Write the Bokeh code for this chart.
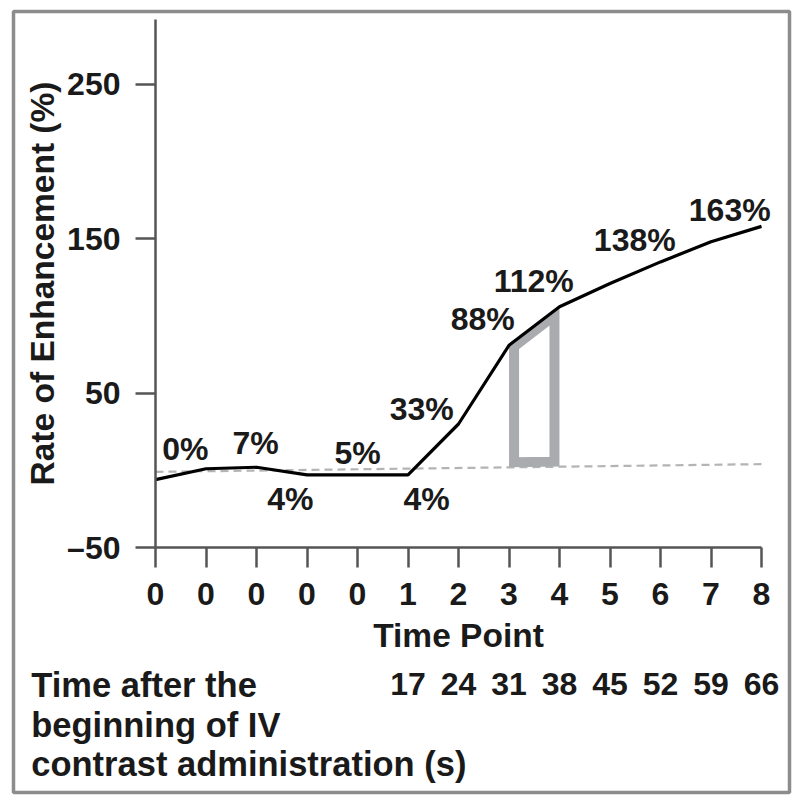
import numpy as np
from bokeh.plotting import figure
from bokeh.models import Range1d, FixedTicker, LinearAxis, ColumnDataSource, LabelSet, Label
from bokeh.core.properties import value
from bokeh.embed import file_html
from bokeh.resources import INLINE

# ---- data ----
time_index = list(range(13))
time_point_labels = ["0", "0", "0", "0", "0", "1", "2", "3", "4", "5", "6", "7", "8"]
enhancement = [-6, 1, 2, -3, -3, -3, 30, 81, 106, 121, 135, 148, 158]
baseline_x = [0, 12]
baseline_y = [-1, 4]
seconds_index = [5, 6, 7, 8, 9, 10, 11, 12]
seconds_labels = ["17", "24", "31", "38", "45", "52", "59", "66"]
y_ticks = [-50, 50, 150, 250]
y_tick_labels = ["\u201350", "50", "150", "250"]
y_axis_top = 292
pct_labels = ["0%", "7%", "4%", "5%", "4%", "33%", "88%", "112%", "138%", "163%"]
pct_x = [0.59, 1.98, 2.67, 4.0, 5.37, 5.27, 6.48, 7.49, 9.49, 11.37]
pct_y = [14.1, 18.0, -18.3, 11.5, -18.3, 40.0, 97.7, 122.9, 149.5, 168.3]
highlight_from, highlight_to = 7, 8
side_text = ["Time after the", "beginning of IV", "contrast administration (s)"]

FONT = "Liberation Sans"
INK = "#1a1a1a"
AXIS = "#555555"

# frame spans the whole card; the axes sit inside it at fixed locations
p = figure(width=800, height=800,
           x_range=Range1d(-2.812, 12.554), y_range=Range1d(-208.7, 297.2),
           x_axis_location=None, y_axis_location=None,
           output_backend="svg", toolbar_location=None,
           min_border_left=13, min_border_right=11, min_border_top=11, min_border_bottom=8)
p.xgrid.visible = False
p.ygrid.visible = False
p.outline_line_color = "#8c8c8c"
p.outline_line_width = 3.5
p.background_fill_color = "white"
p.border_fill_color = "white"

# baseline (dashed)
p.line(baseline_x, baseline_y, line_color="#b4b4b4", line_width=2.2, line_dash="8 5")

# highlighted trapezoid between time points 7 and 8 (stroke inset by half its width)
ix, iy = 0.1, 3.3
hx = [highlight_from + ix, highlight_to - ix, highlight_to - ix, highlight_from + ix]
top = np.interp([hx[0], hx[1]], time_index, enhancement)
bot = np.interp([hx[1], hx[0]], baseline_x, baseline_y)
hy = [top[0] - iy, top[1] - iy, bot[0] + iy, bot[1] + iy]
p.patch(hx, hy, fill_color=None, line_color="#a9abae", line_width=10, line_join="miter")

# enhancement curve
p.line(time_index, enhancement, line_color="black", line_width=3.2, line_join="round")

# percent annotations
src = ColumnDataSource(dict(x=pct_x, y=pct_y, text=pct_labels))
p.add_layout(LabelSet(x="x", y="y", text="text", source=src, text_align="center",
                      text_baseline="middle", text_font=value(FONT), text_font_size=value("32px"),
                      text_font_style="bold", text_color=INK))

def style_axis(ax):
    ax.axis_line_color = AXIS
    ax.axis_line_width = 2.5
    ax.major_tick_line_color = AXIS
    ax.major_tick_line_width = 2.5
    ax.major_tick_out = 20
    ax.major_tick_in = 0
    ax.minor_tick_line_color = None
    ax.major_label_text_font = FONT
    ax.major_label_text_font_size = "32px"
    ax.major_label_text_font_style = "bold"
    ax.major_label_text_color = INK
    ax.axis_label_text_font = FONT
    ax.axis_label_text_font_size = "33.5px"
    ax.axis_label_text_font_style = "bold"
    ax.axis_label_text_color = INK

y_bottom = min(y_ticks)

xa = LinearAxis(fixed_location=y_bottom, bounds=(time_index[0], time_index[-1]),
                ticker=FixedTicker(ticks=time_index),
                major_label_overrides={i: lab for i, lab in zip(time_index, time_point_labels)},
                axis_label="Time Point")
style_axis(xa)
xa.major_label_standoff = 15
xa.axis_label_standoff = 9
p.add_layout(xa, "below")

ya = LinearAxis(fixed_location=time_index[0], bounds=(y_bottom, y_axis_top),
                ticker=FixedTicker(ticks=y_ticks),
                major_label_overrides={t: lab for t, lab in zip(y_ticks, y_tick_labels)},
                axis_label="Rate of Enhancement (%)")
style_axis(ya)
ya.major_label_standoff = 15
ya.axis_label_standoff = 3
p.add_layout(ya, "left")

xa2 = LinearAxis(fixed_location=y_bottom, bounds=(seconds_index[0], seconds_index[-1]),
                 ticker=FixedTicker(ticks=seconds_index),
                 major_label_overrides={i: lab for i, lab in zip(seconds_index, seconds_labels)})
style_axis(xa2)
xa2.axis_line_color = None
xa2.major_tick_line_color = None
xa2.major_tick_out = 0
xa2.major_label_standoff = 125
p.add_layout(xa2, "below")

line_gap = [0, -40, -79]
for k, line in enumerate(side_text):
    p.add_layout(Label(x=-2.46, y=-139.1, y_offset=line_gap[k], text=line, text_align="left",
                       text_baseline="alphabetic", text_font=FONT, text_font_size="34.5px",
                       text_font_style="bold", text_color=INK))

open("out.html", "w").write(file_html(p, INLINE))
